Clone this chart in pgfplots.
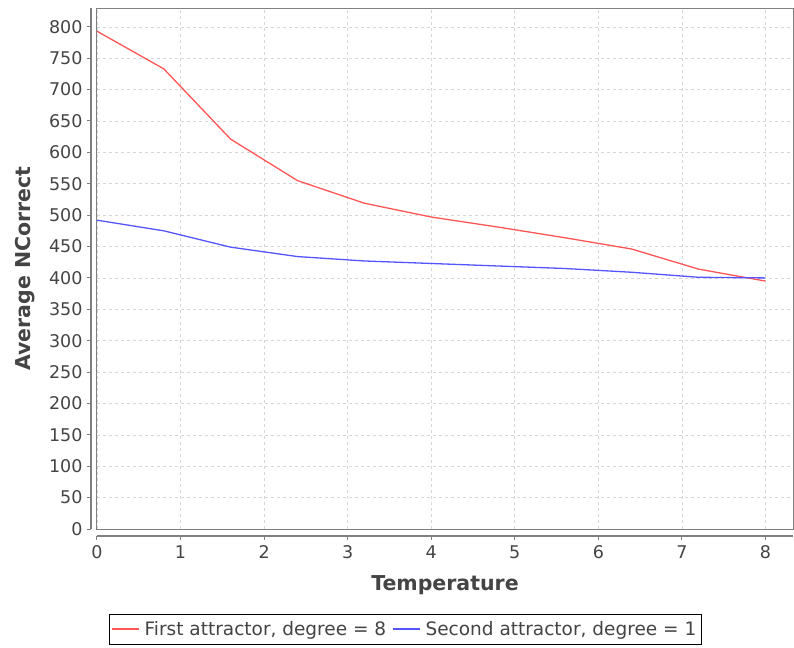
\documentclass[border=0pt]{standalone}
\usepackage{pgfplots}
\pgfplotsset{compat=1.18}
\usepackage{fontspec}
\setmainfont{DejaVu Sans}
\definecolor{sred}{RGB}{255,85,85}
\definecolor{sblue}{RGB}{85,85,255}
\definecolor{gridc}{RGB}{215,215,215}
\definecolor{axc}{RGB}{128,128,128}
\definecolor{txt}{RGB}{68,68,68}
\begin{document}
\begin{tikzpicture}
\useasboundingbox (-97pt,-118pt) rectangle (697pt,529pt);
\begin{axis}[
  at={(0,0)}, anchor=south west,
  scale only axis, width=696pt, height=521pt,
  xmin=0, xmax=8.33, ymin=0, ymax=830,
  xtick={0,1,...,8}, ytick={0,50,...,800},
  axis line style={axc, line width=1pt},
  major tick length=0pt,
  xtick pos=bottom, ytick pos=left,
  grid=major, major grid style={gridc, dashed, line width=0.6pt},
  tick label style={font=\fontsize{17.5}{20}\selectfont, text=txt},
  /pgf/number format/assume math mode=true,
  xticklabel style={yshift=-13pt},
  yticklabel style={xshift=-11pt},
  xlabel={\textbf{Temperature}}, ylabel={\textbf{Average NCorrect}},
  label style={font=\fontsize{20.5}{24}\selectfont, text=txt},
  xlabel style={yshift=-10pt},
  ylabel style={yshift=7pt},
  legend style={at={(0.443,0)}, anchor=north, yshift=-85pt,
    draw=black, font=\fontsize{18.5}{22}\selectfont,
    legend columns=2, inner xsep=3pt, inner ysep=5pt,
    /tikz/every odd column/.append style={column sep=4pt},
    /tikz/every even column/.append style={column sep=5pt}},
  legend cell align=left,
  clip=false,
]
\draw[axc, line width=1.6pt] ([yshift=-7pt]rel axis cs:0,0) -- ([yshift=-7pt]rel axis cs:1,0);
\draw[axc, line width=1.6pt] ([xshift=-6pt]rel axis cs:0,0) -- ([xshift=-6pt]rel axis cs:0,1);
\pgfplotsinvokeforeach{0,1,...,8}{\draw[axc, line width=1pt] ([yshift=-7pt]axis cs:#1,0) -- ([yshift=-11pt]axis cs:#1,0);}
\pgfplotsinvokeforeach{0,50,...,800}{\draw[axc, line width=1pt] ([xshift=-6pt]axis cs:0,#1) -- ([xshift=-10pt]axis cs:0,#1);}
\addplot[color=sred, line width=1.3pt,
  legend image code/.code={\fill[sred] (0pt,-0.7pt) rectangle (25pt,0.7pt);}] coordinates {
(0,793) (0.8,733) (1.6,621) (2.4,555) (3.2,519) (4.0,497) (4.8,481) (5.6,464) (6.4,446) (7.2,414) (8.0,395)};
\addlegendentry{\textcolor{txt}{First attractor, degree = 8}}
\addplot[color=sblue, line width=1.3pt,
  legend image code/.code={\fill[sblue] (0pt,-0.7pt) rectangle (25pt,0.7pt);}] coordinates {
(0,492) (0.8,475) (1.6,449) (2.4,434) (3.2,427) (4.0,423) (4.8,419) (5.6,415) (6.4,409) (7.2,401) (8.0,400)};
\addlegendentry{\textcolor{txt}{Second attractor, degree = 1}}
\end{axis}
\end{tikzpicture}
\end{document}
